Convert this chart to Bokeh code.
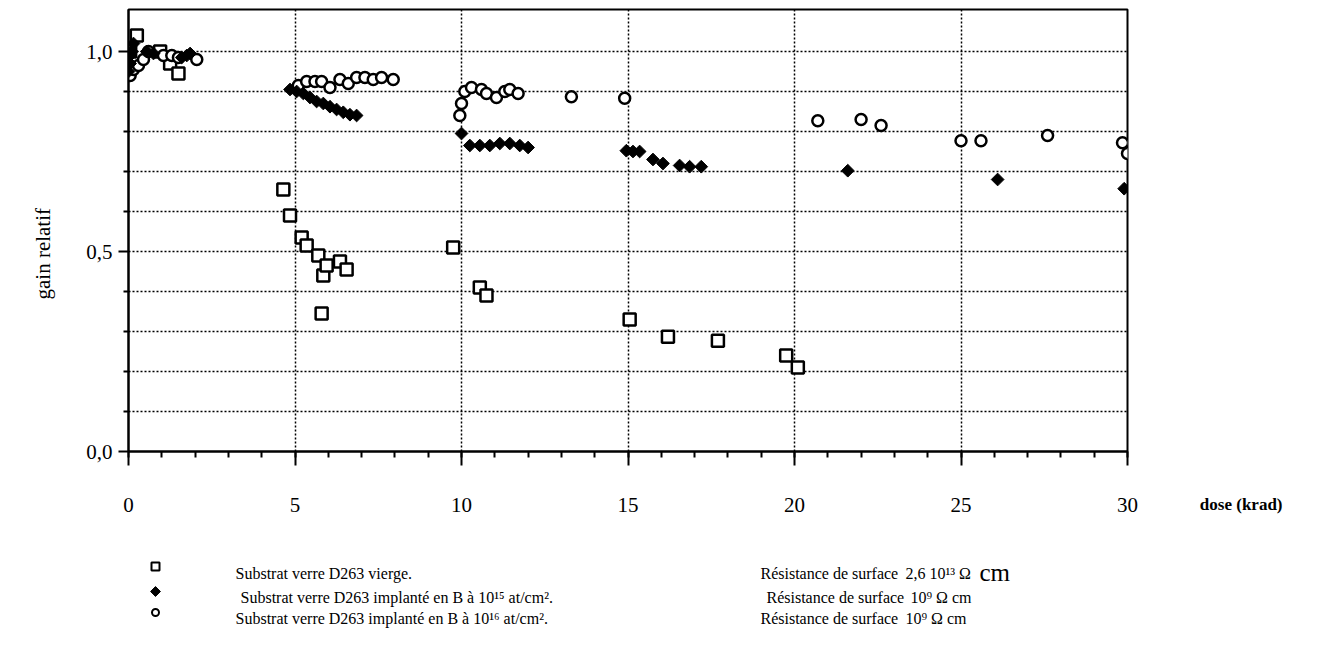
import math
from bokeh.plotting import figure
from bokeh.models import Range1d, FixedTicker, CustomJSTickFormatter, Label, Title
from bokeh.layouts import column
from bokeh.embed import file_html
from bokeh.resources import INLINE

# ---- data ----
vierge_x = [0.05, 0.25, 0.95, 1.25, 1.5,
            4.65, 4.85, 5.2, 5.35, 5.7, 6.35, 6.55, 5.85, 5.95, 5.8,
            9.75, 10.55, 10.75, 15.05, 16.2, 17.7, 19.75, 20.1]
vierge_y = [1.0, 1.04, 1.0, 0.97, 0.945,
            0.655, 0.59, 0.535, 0.515, 0.49, 0.475, 0.455, 0.44, 0.465, 0.345,
            0.51, 0.41, 0.39, 0.33, 0.287, 0.277, 0.24, 0.21]

b15_x = [0.0, 0.05, 0.1, 0.15, 0.05, 0.55, 0.75, 1.6, 1.75, 1.85,
         4.85, 5.05, 5.25, 5.45, 5.65, 5.85, 6.05, 6.25, 6.45, 6.65, 6.85,
         10.0, 10.25, 10.55, 10.85, 11.15, 11.45, 11.75, 12.0,
         14.95, 15.15, 15.35, 15.75, 16.05, 16.55, 16.85, 17.2,
         21.6, 26.1, 29.9]
b15_y = [0.95, 0.97, 1.0, 1.02, 0.99, 1.0, 0.995, 0.985, 0.99, 0.995,
         0.905, 0.9, 0.895, 0.885, 0.875, 0.87, 0.862, 0.855, 0.848, 0.842, 0.84,
         0.795, 0.765, 0.765, 0.765, 0.77, 0.77, 0.765, 0.76,
         0.752, 0.75, 0.75, 0.73, 0.72, 0.715, 0.712, 0.712,
         0.702, 0.68, 0.657]

b16_x = [0.05, 0.15, 0.3, 0.45, 0.6, 1.05, 1.3, 1.5, 2.05,
         5.1, 5.35, 5.6, 5.8, 6.05, 6.35, 6.6, 6.85, 7.1, 7.35, 7.6, 7.95,
         9.95, 10.0, 10.1, 10.3, 10.6, 10.75, 11.05, 11.3, 11.45, 11.7, 13.3, 14.9,
         20.7, 22.0, 22.6, 25.0, 25.6, 27.6, 29.85, 30.0]
b16_y = [0.94, 0.955, 0.965, 0.98, 1.0, 0.99, 0.99, 0.985, 0.98,
         0.915, 0.925, 0.925, 0.925, 0.91, 0.93, 0.92, 0.935, 0.935, 0.93, 0.935, 0.93,
         0.84, 0.87, 0.9, 0.91, 0.905, 0.895, 0.885, 0.9, 0.905, 0.895, 0.887, 0.883,
         0.827, 0.83, 0.815, 0.777, 0.777, 0.79, 0.772, 0.745]

x_ticks = [0, 5, 10, 15, 20, 25, 30]
x_minor = list(range(0, 31))
y_ticks = [0.0, 0.5, 1.0]
y_minor = [0.1, 0.2, 0.3, 0.4, 0.6, 0.7, 0.8, 0.9]

legend_main = ["Substrat verre D263 vierge.",
               "Substrat verre D263 implanté en B à 10¹⁵ at/cm².",
               "Substrat verre D263 implanté en B à 10¹⁶ at/cm²."]
legend_res = ["Résistance de surface", "Résistance de surface", "Résistance de surface"]
legend_val = ["2,6 10¹³ Ω", "10⁹ Ω cm", "10⁹ Ω cm"]

FONT = "Liberation Serif"

# ---- main plot ----
W = 1308
HM = 545
BL, BR = 128, 181
p = figure(width=W, height=HM, output_backend="svg", toolbar_location=None,
           x_range=Range1d(0, 30), y_range=Range1d(0, 1.105),
           min_border_left=BL, min_border_right=BR, min_border_top=9,
           min_border_bottom=HM - 451)
p.background_fill_color = "white"
p.border_fill_color = "white"
p.outline_line_color = "black"
p.outline_line_width = 2

p.xaxis.ticker = FixedTicker(ticks=x_ticks, minor_ticks=x_minor)
p.yaxis.ticker = FixedTicker(ticks=y_ticks, minor_ticks=y_minor)
p.yaxis.formatter = CustomJSTickFormatter(code="return tick.toFixed(1).replace('.', ',');")

for ax in (p.xaxis[0], p.yaxis[0]):
    ax.axis_line_color = "black"
    ax.axis_line_width = 2
    ax.major_tick_line_color = "black"
    ax.major_tick_line_width = 2
    ax.minor_tick_line_color = "black"
    ax.minor_tick_line_width = 2
    ax.major_tick_in = 0
    ax.minor_tick_in = 0
    ax.major_label_text_font = FONT
    ax.major_label_text_font_size = "21px"
    ax.major_label_text_color = "black"

p.xaxis.major_tick_out = 14
p.xaxis.minor_tick_out = 6
p.xaxis.major_label_standoff = 32
p.yaxis.major_tick_out = 10
p.yaxis.minor_tick_out = 5
p.yaxis.major_label_standoff = 6

p.xgrid.grid_line_color = "black"
p.xgrid.grid_line_dash = "2 2"
p.xgrid.grid_line_width = 1.5
p.ygrid.grid_line_color = "black"
p.ygrid.grid_line_dash = "2 2"
p.ygrid.grid_line_width = 1.5
p.ygrid.minor_grid_line_color = "black"
p.ygrid.minor_grid_line_dash = "2 2"
p.ygrid.minor_grid_line_width = 1.5

p.scatter(vierge_x, vierge_y, marker="square", size=12, fill_color="white",
          line_color="black", line_width=2.5)
p.scatter(b16_x, b16_y, marker="circle", size=11, fill_color="white",
          line_color="black", line_width=2.5)
p.scatter(b15_x, b15_y, marker="square", angle=math.pi / 4, size=9,
          fill_color="black", line_color="black", line_width=1)

p.add_layout(Title(text="gain relatif", align="left", vertical_align="top",
                   offset=152, standoff=54,
                   text_font=FONT, text_font_size="21px", text_font_style="normal",
                   text_color="black"), "left")
p.add_layout(Title(text="dose (krad)", align="right", vertical_align="top",
                   offset=-155, standoff=-40,
                   text_font=FONT, text_font_size="17px", text_font_style="bold",
                   text_color="black"), "below")

# ---- legend area (x in canvas pixels, y in pixels from top) ----
HL = 629 - HM
lg = figure(width=W, height=HL, output_backend="svg", toolbar_location=None,
            x_range=Range1d(BL, W - BR), y_range=Range1d(HL, 0),
            min_border_left=BL, min_border_right=BR, min_border_top=0,
            min_border_bottom=0)
lg.axis.visible = False
lg.grid.visible = False
lg.outline_line_color = None
lg.border_fill_color = "white"

mk_x = [155, 155, 155]
mk_y = [21, 46, 67]
lg.scatter([mk_x[0]], [mk_y[0]], marker="square", size=8, fill_color="white",
           line_color="black", line_width=2)
lg.scatter([mk_x[1]], [mk_y[1]], marker="square", angle=math.pi / 4, size=7,
           fill_color="black", line_color="black")
lg.scatter([mk_x[2]], [mk_y[2]], marker="circle", size=7, fill_color="white",
           line_color="black", line_width=2)

row_y = [28, 52, 73]
main_x = [235, 240, 235]
res_x = [760, 766, 760]
val_x = [905, 910, 905]
for i in range(3):
    lg.add_layout(Label(x=main_x[i], y=row_y[i], text=legend_main[i], text_font=FONT,
                        text_font_size="16px", text_baseline="middle", text_color="black"))
    lg.add_layout(Label(x=res_x[i], y=row_y[i], text=legend_res[i], text_font=FONT,
                        text_font_size="16px", text_baseline="middle", text_color="black"))
    lg.add_layout(Label(x=val_x[i], y=row_y[i], text=legend_val[i], text_font=FONT,
                        text_font_size="16px", text_baseline="middle", text_color="black"))
# larger "cm" of the first resistance value
lg.add_layout(Label(x=979, y=row_y[0] - 1, text="cm", text_font=FONT,
                    text_font_size="25px", text_baseline="middle", text_color="black"))

layout = column(p, lg, spacing=0)
open("out.html", "w").write(file_html(layout, INLINE))
